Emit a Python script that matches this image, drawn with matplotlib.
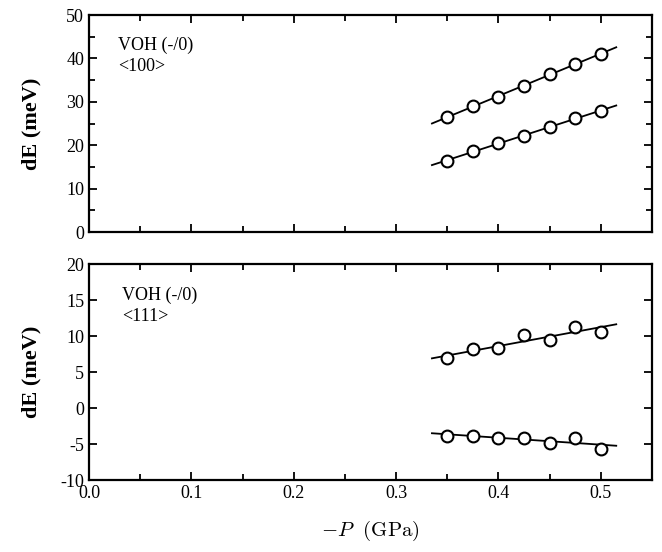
import numpy as np
import matplotlib
matplotlib.use('Agg')
import matplotlib.pyplot as plt
from matplotlib.ticker import MultipleLocator

plt.rcParams['font.family'] = ['Liberation Serif', 'DejaVu Serif']
plt.rcParams['mathtext.fontset'] = 'cm'
plt.rcParams['axes.unicode_minus'] = False

# pressure points (GPa)
p = [0.35, 0.375, 0.40, 0.425, 0.45, 0.475, 0.50]

# <100> panel
de100_a = [26.4, 29.1, 31.2, 33.6, 36.5, 38.7, 41.0]
de100_b = [16.4, 18.7, 20.4, 22.1, 24.3, 26.2, 27.9]

# <111> panel
de111_a = [6.9, 8.15, 8.4, 10.1, 9.4, 11.3, 10.6]
de111_b = [-3.85, -3.85, -4.1, -4.2, -4.8, -4.1, -5.7]

fit_x = np.array([0.335, 0.515])

fig = plt.figure(figsize=(6.62, 5.52), dpi=100)
ax1 = fig.add_axes([0.1344, 0.5797, 0.8506, 0.3931])
ax2 = fig.add_axes([0.1344, 0.1304, 0.8506, 0.3913])


def draw(ax, ys):
    for y in ys:
        k, b = np.polyfit(p, y, 1)
        ax.plot(fit_x, k * fit_x + b, color='black', lw=1.3, zorder=2)
        ax.plot(p, y, 'o', mfc='white', mec='black', mew=1.5, ms=8.5, zorder=3)


def style(ax):
    ax.set_xlim(0, 0.55)
    ax.xaxis.set_major_locator(MultipleLocator(0.1))
    ax.xaxis.set_minor_locator(MultipleLocator(0.05))
    ax.tick_params(which='both', direction='in', top=True, right=True, width=1.3,
                   labelsize=13)
    ax.tick_params(which='major', length=6)
    ax.tick_params(which='minor', length=4)
    for s in ax.spines.values():
        s.set_linewidth(1.6)
    ax.set_ylabel('dE (meV)', fontsize=16, fontweight='bold')
    ax.yaxis.set_label_coords(-0.085, 0.5)


draw(ax1, [de100_a, de100_b])
style(ax1)
ax1.set_ylim(0, 50)
ax1.yaxis.set_major_locator(MultipleLocator(10))
ax1.yaxis.set_minor_locator(MultipleLocator(5))
ax1.tick_params(labelbottom=False)
ax1.text(0.052, 0.84, 'VOH (-/0)', transform=ax1.transAxes, fontsize=13)
ax1.text(0.052, 0.74, '<100>', transform=ax1.transAxes, fontsize=13)

draw(ax2, [de111_a, de111_b])
style(ax2)
ax2.set_ylim(-10, 20)
ax2.yaxis.set_major_locator(MultipleLocator(5))
ax2.yaxis.set_minor_locator(MultipleLocator(5))
ax2.text(0.058, 0.835, 'VOH (-/0)', transform=ax2.transAxes, fontsize=13)
ax2.text(0.058, 0.735, '<111>', transform=ax2.transAxes, fontsize=13)
ax2.set_xlabel(r'$-P\ \ \mathrm{(GPa)}$', fontsize=15, labelpad=12)

fig.savefig('out.png', dpi=100)
